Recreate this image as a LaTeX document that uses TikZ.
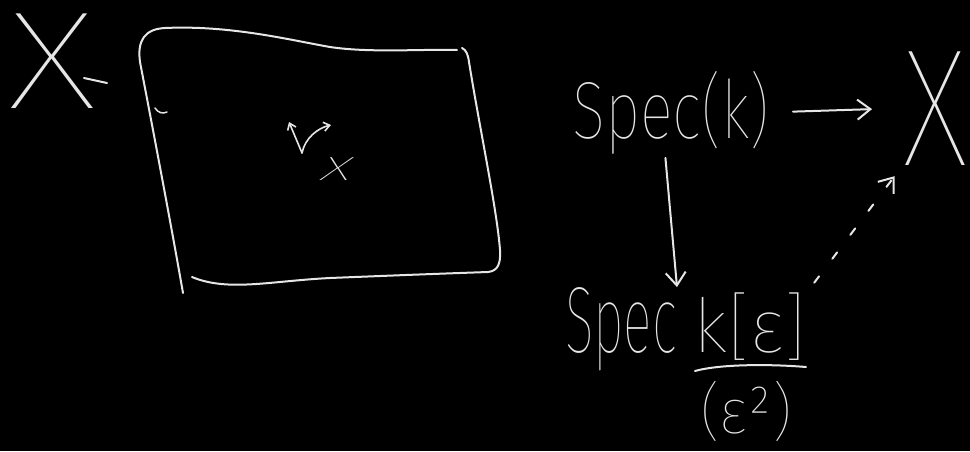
\documentclass[tikz,border=0pt]{standalone}
\usepackage{fontspec}
\usepackage{graphicx}
\usetikzlibrary{arrows.meta,calc}
\IfFontExistsTF{Fira Sans Thin}{\def\handname{Fira Sans Thin}}{%
  \IfFontExistsTF{Fira Sans ExtraLight}{\def\handname{Fira Sans ExtraLight}}{%
    \IfFontExistsTF{Fira Sans Light}{\def\handname{Fira Sans Light}}{%
      \def\handname{Fira Sans}}}}
\newfontfamily\hand{\handname}
\newfontfamily\handit{\handname}[FakeSlant=0.25]
\definecolor{ink}{HTML}{E6E6E6}
\newcommand{\hw}[3]{\resizebox{#1pt}{\height}{\fontsize{#2}{#2}\hand #3}}
\begin{document}
\begin{tikzpicture}[x=1pt,y=-1pt, line width=2pt, line cap=round, line join=round,
  color=ink,
  lbl/.style={inner sep=0pt, outer sep=0pt, anchor=base west, text=ink},
  arr/.style={-{Straight Barb[length=13pt,width=20pt,line width=2pt]}},
  arrs/.style={-{Straight Barb[length=6pt,width=9pt,line width=1.6pt]}, line width=1.6pt}]
\fill[black] (0,0) rectangle (970,451);
\useasboundingbox (0,0) rectangle (970,451);
% left X
\node[lbl] (X1) at (8,108) {\hw{88}{139}{X}};
\draw (84,78) -- (107,83);
% wavy square
\draw (140,62) .. controls (137,40) and (145,29) .. (165,28) .. controls (230,25) and (290,40) .. (330,47) .. controls (370,53) and (420,49) .. (457,50);
\draw (140,62) .. controls (155,140) and (172,230) .. (183,293);
\draw (462,48) .. controls (466,50) and (468,54) .. (469,62) .. controls (480,130) and (497,210) .. (500,250) .. controls (501,265) and (497,271) .. (488,272) .. controls (430,274) and (380,276) .. (330,278) .. controls (270,281) and (228,292) .. (192,277);
\draw[line width=1.5pt] (155,108) .. controls (158,113) and (163,114) .. (167,112);
% tangent vectors
\coordinate (v0) at (302,153);
\coordinate (v1) at (289,122);
\coordinate (v2) at (331,125);
\draw[arrs] (v0) -- (v1);
\draw[arrs] (v0) .. controls (305,138) and (318,128) .. (v2);
\node[lbl] (xl) at (318,180) {\resizebox{30pt}{\height}{\fontsize{44}{44}\handit x}};
% right diagram
\node[lbl] (sk) at (572,138) {\hw{198}{81}{Spec(k)}};
\node[lbl] (X2) at (903,165) {\hw{64}{167}{X}};
\node[lbl] (sp2) at (565,352) {\hw{112}{94}{Spec}};
\node[lbl] (num) at (693,352) {\hw{114}{75}{k[ε]}};
\node[lbl] (den) at (700,433) {\hw{92}{63}{(ε²)}};
\draw (695,371) .. controls (720,364) and (770,364) .. (806,367);
\draw[arr, shorten <=23pt, shorten >=31pt] (sk.east) -- (X2.west);
\draw[arr, shorten <=4pt] ($(sk.south west)!0.47!(sk.south east)$) -- (sp2.north east);
\draw[arr, dash pattern=on 8pt off 22pt, shorten <=12pt, shorten >=14pt] (num.north east) -- (X2.south west);
\end{tikzpicture}
\end{document}
